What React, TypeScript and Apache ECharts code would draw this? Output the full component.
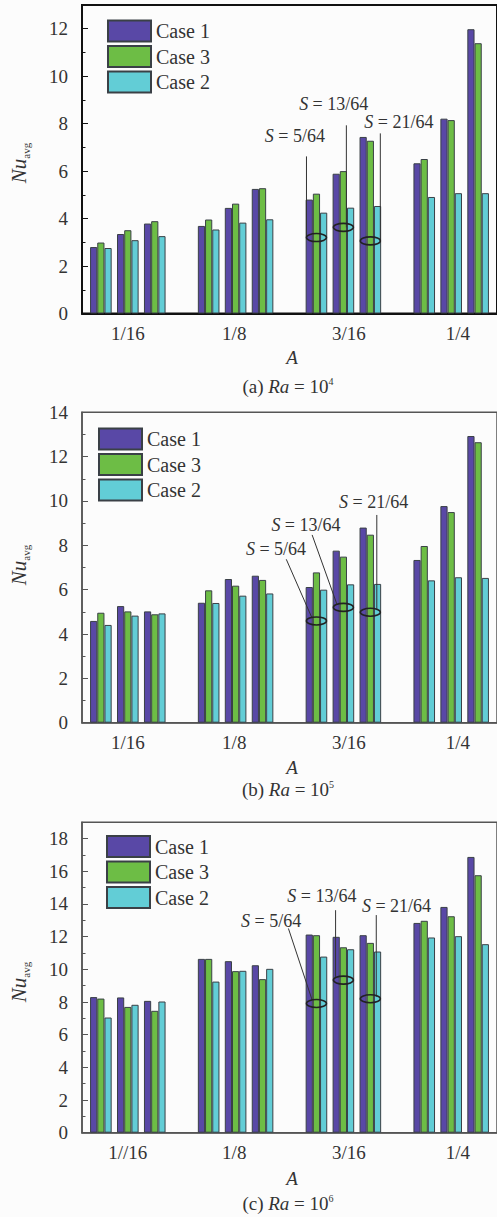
import React, { useEffect, useRef } from 'react';
import * as echarts from 'echarts';

const FONT = '"Liberation Serif", "Times New Roman", Times, serif';
const TEXT = '#333333';

const caseNames = ['Case 1', 'Case 3', 'Case 2'];
const caseColors = ['#5948a6', '#6dbd45', '#62cdd6'];
const aLabels = ['1/16', '1/8', '3/16', '1/4'];
const aLabelsC = ['1//16', '1/8', '3/16', '1/4'];
const sLabels = ['5/64', '13/64', '21/64'];
// Ra = 10^4 (order within each A: S = 5/64, 13/64, 21/64)
const ra4Case1 = [2.80, 3.35, 3.79, 3.69, 4.45, 5.25, 4.80, 5.89, 7.44, 6.33, 8.21, 11.98];
const ra4Case3 = [2.99, 3.51, 3.89, 3.96, 4.63, 5.28, 5.05, 6.00, 7.28, 6.51, 8.15, 11.39];
const ra4Case2 = [2.76, 3.09, 3.26, 3.54, 3.83, 3.97, 4.25, 4.46, 4.53, 4.91, 5.07, 5.07];
// Ra = 10^5
const ra5Case1 = [4.59, 5.26, 5.02, 5.41, 6.48, 6.63, 6.12, 7.76, 8.80, 7.34, 9.77, 12.93];
const ra5Case3 = [4.96, 5.02, 4.89, 5.97, 6.18, 6.44, 6.78, 7.49, 8.48, 7.97, 9.50, 12.65];
const ra5Case2 = [4.41, 4.83, 4.93, 5.40, 5.73, 5.83, 6.00, 6.24, 6.26, 6.42, 6.56, 6.53];
// Ra = 10^6
const ra6Case1 = [8.30, 8.28, 8.07, 10.64, 10.50, 10.25, 12.13, 11.99, 12.09, 12.84, 13.82, 16.88];
const ra6Case3 = [8.21, 7.70, 7.46, 10.64, 9.89, 9.40, 12.09, 11.35, 11.62, 12.97, 13.25, 15.76];
const ra6Case2 = [7.05, 7.83, 8.03, 9.25, 9.91, 10.03, 10.78, 11.23, 11.09, 11.95, 12.03, 11.54];

// x position of each (A, S) bar cluster on the value x axis
const clusterPos: number[] = [];
for (let g = 0; g < aLabels.length; g++) {
  for (let s = 0; s < sLabels.length; s++) clusterPos.push(g * 4 + s);
}
const aLabelPos = [1, 4.95, 9.2, 13.25];

type Ann = { label: string; text: number[]; line: number[][]; ell: number[] };

const panels = [
  {
    letter: 'a', exp: '4', labels: aLabels, values: [ra4Case1, ra4Case3, ra4Case2],
    top: 5, height: 308.5, yMax: 13, lineColor: '#111', lineWidth: 2,
    legendLeft: 107, legendTop: 19.5, nuY: 163, aY: 357, capY: 386,
    ann: [
      { label: sLabels[0], text: [7.2, 7.47], line: [[7.63, 6.62], [7.63, 3.2]], ell: [8, 3.2] },
      { label: sLabels[1], text: [8.64, 8.83], line: [[9.11, 7.93], [9.11, 3.63]], ell: [9, 3.63] },
      { label: sLabels[2], text: [11.06, 8.05], line: [[10.37, 7.59], [10.37, 3.06]], ell: [10, 3.06] },
    ] as Ann[],
  },
  {
    letter: 'b', exp: '5', labels: aLabels, values: [ra5Case1, ra5Case3, ra5Case2],
    top: 412.3, height: 310.4, yMax: 14, lineColor: '#555', lineWidth: 1.5,
    legendLeft: 98, legendTop: 427.5, nuY: 565, aY: 767, capY: 789,
    ann: [
      { label: sLabels[0], text: [6.5, 7.83], line: [[6.88, 7.37], [7.84, 4.71]], ell: [8, 4.59] },
      { label: sLabels[1], text: [7.61, 8.92], line: [[7.84, 8.47], [8.77, 5.31]], ell: [9, 5.2] },
      { label: sLabels[2], text: [10.12, 9.96], line: [[10.24, 9.37], [10.24, 5.08]], ell: [10, 4.98] },
    ] as Ann[],
  },
  {
    letter: 'c', exp: '6', labels: aLabelsC, values: [ra6Case1, ra6Case3, ra6Case2],
    top: 822.3, height: 310.4, yMax: 19, lineColor: '#555', lineWidth: 1.5,
    legendLeft: 106, legendTop: 835, nuY: 982, aY: 1178, capY: 1203,
    ann: [
      { label: sLabels[0], text: [6.32, 12.95], line: [[6.96, 12.5], [7.84, 8.12]], ell: [8, 7.91] },
      { label: sLabels[1], text: [8.2, 14.5], line: [[8.71, 13.62], [8.71, 9.54]], ell: [9, 9.34] },
      { label: sLabels[2], text: [10.97, 13.9], line: [[10.22, 13.32], [10.22, 8.32]], ell: [10, 8.2] },
    ] as Ann[],
  },
];

function buildOption() {
  const grid = panels.map((p) => ({
    left: 82, right: -2, top: p.top, height: p.height, show: true,
    borderColor: p.lineColor, borderWidth: p.lineWidth, backgroundColor: 'transparent',
  }));
  const xAxis = panels.map((p, i) => ({
    type: 'value', gridIndex: i, min: -0.7, max: 14.7,
    axisLine: { show: true, onZero: false, lineStyle: { color: p.lineColor, width: p.lineWidth } },
    axisTick: { show: false },
    splitLine: { show: false },
    axisLabel: {
      customValues: aLabelPos,
      formatter: (v: number) => {
        const k = aLabelPos.findIndex((q) => Math.abs(q - v) < 1e-6);
        return k >= 0 ? p.labels[k] : '';
      },
      fontSize: 19, fontFamily: FONT, color: TEXT, margin: 10,
    },
  }));
  const yAxis = panels.map((p, i) => ({
    type: 'value', gridIndex: i, min: 0, max: p.yMax, interval: 2,
    axisLine: { show: true, onZero: false, lineStyle: { color: p.lineColor, width: p.lineWidth } },
    axisTick: { show: true, inside: true, length: 6, lineStyle: { color: p.lineColor, width: 1 } },
    minorTick: { show: true, splitNumber: 2, length: 3.5, lineStyle: { color: p.lineColor, width: 1 } },
    splitLine: { show: false },
    axisLabel: { fontSize: 19, fontFamily: FONT, color: TEXT, margin: 14, showMaxLabel: p.yMax % 2 === 0 },
  }));
  const series: any[] = [];
  panels.forEach((p, i) => {
    caseNames.forEach((name, c) => {
      series.push({
        type: 'bar', name, xAxisIndex: i, yAxisIndex: i,
        barWidth: 7.2, barGap: '0%',
        data: clusterPos.map((x, k) => [x, p.values[c][k]]),
        itemStyle: { color: caseColors[c], borderColor: '#3a4046', borderWidth: 1 },
      });
    });
  });
  const legend = panels.map((p) => ({
    orient: 'vertical', left: p.legendLeft, top: p.legendTop, padding: 0,
    itemWidth: 43, itemHeight: 21, itemGap: 2.5, icon: 'rect',
    data: caseNames, selectedMode: false,
    textStyle: { fontSize: 20, fontFamily: FONT, color: TEXT },
  }));
  return {
    animation: false,
    backgroundColor: '#fcfcfc',
    textStyle: { fontFamily: FONT },
    grid, xAxis, yAxis, series, legend,
  };
}

function buildGraphics(chart: any) {
  const els: any[] = [];
  panels.forEach((p, i) => {
    const px = (pt: number[]) => chart.convertToPixel({ gridIndex: i }, pt) as number[];
    els.push({
      type: 'text', x: 19, y: p.nuY, rotation: Math.PI / 2,
      style: {
        text: '{i|Nu}{s|avg}', fill: TEXT, fontSize: 20, fontFamily: FONT,
        align: 'center', verticalAlign: 'middle', textAlign: 'center', textVerticalAlign: 'middle',
        rich: {
          i: { fontSize: 21, fontFamily: FONT, fontStyle: 'italic', fill: TEXT, lineHeight: 24 },
          s: { fontSize: 11, fontFamily: FONT, fill: TEXT, lineHeight: 12, verticalAlign: 'bottom' },
        },
      },
    });
    els.push({
      type: 'text', x: 292, y: p.aY,
      style: {
        text: 'A', fill: TEXT, fontSize: 19, fontFamily: FONT, fontStyle: 'italic',
        align: 'center', verticalAlign: 'middle', textAlign: 'center', textVerticalAlign: 'middle',
      },
    });
    els.push({
      type: 'text', x: 288, y: p.capY,
      style: {
        text: '(' + p.letter + ') {i|Ra} = 10{sup|' + p.exp + '}', fill: TEXT, fontSize: 19, fontFamily: FONT,
        lineHeight: 20,
        align: 'center', verticalAlign: 'middle', textAlign: 'center', textVerticalAlign: 'middle',
        rich: {
          i: { fontSize: 19, fontFamily: FONT, fontStyle: 'italic', fill: TEXT, lineHeight: 20 },
          sup: { fontSize: 10, fontFamily: FONT, fill: TEXT, lineHeight: 12, verticalAlign: 'top' },
        },
      },
    });
    p.ann.forEach((a) => {
      const t = px(a.text);
      const l0 = px(a.line[0]);
      const l1 = px(a.line[1]);
      const e = px(a.ell);
      els.push({
        type: 'line', shape: { x1: l0[0], y1: l0[1], x2: l1[0], y2: l1[1] },
        style: { stroke: '#333', lineWidth: 1 }, z: 100,
      });
      els.push({
        type: 'ellipse', shape: { cx: e[0], cy: e[1], rx: 10, ry: 4 },
        style: { fill: 'none', stroke: '#222', lineWidth: 1.6 }, z: 100,
      });
      els.push({
        type: 'text', x: t[0], y: t[1], z: 100,
        style: {
          text: '{i|S} = ' + a.label, fill: TEXT, fontSize: 18, fontFamily: FONT, lineHeight: 15,
          align: 'center', verticalAlign: 'middle', textAlign: 'center', textVerticalAlign: 'middle',
          rich: { i: { fontSize: 18, fontFamily: FONT, fontStyle: 'italic', fill: TEXT, lineHeight: 15 } },
        },
      });
    });
  });
  return els;
}

export default function App() {
  const ref = useRef<HTMLDivElement>(null);
  useEffect(() => {
    if (!ref.current) return;
    const chart = echarts.init(ref.current, undefined, { renderer: 'svg' });
    chart.setOption(buildOption() as any);
    chart.setOption({ graphic: buildGraphics(chart) } as any);
    return () => chart.dispose();
  }, []);
  return (
    <div
      ref={ref}
      style={{ position: 'absolute', left: 0, top: 0, width: 497, height: 1217 }}
    />
  );
}
